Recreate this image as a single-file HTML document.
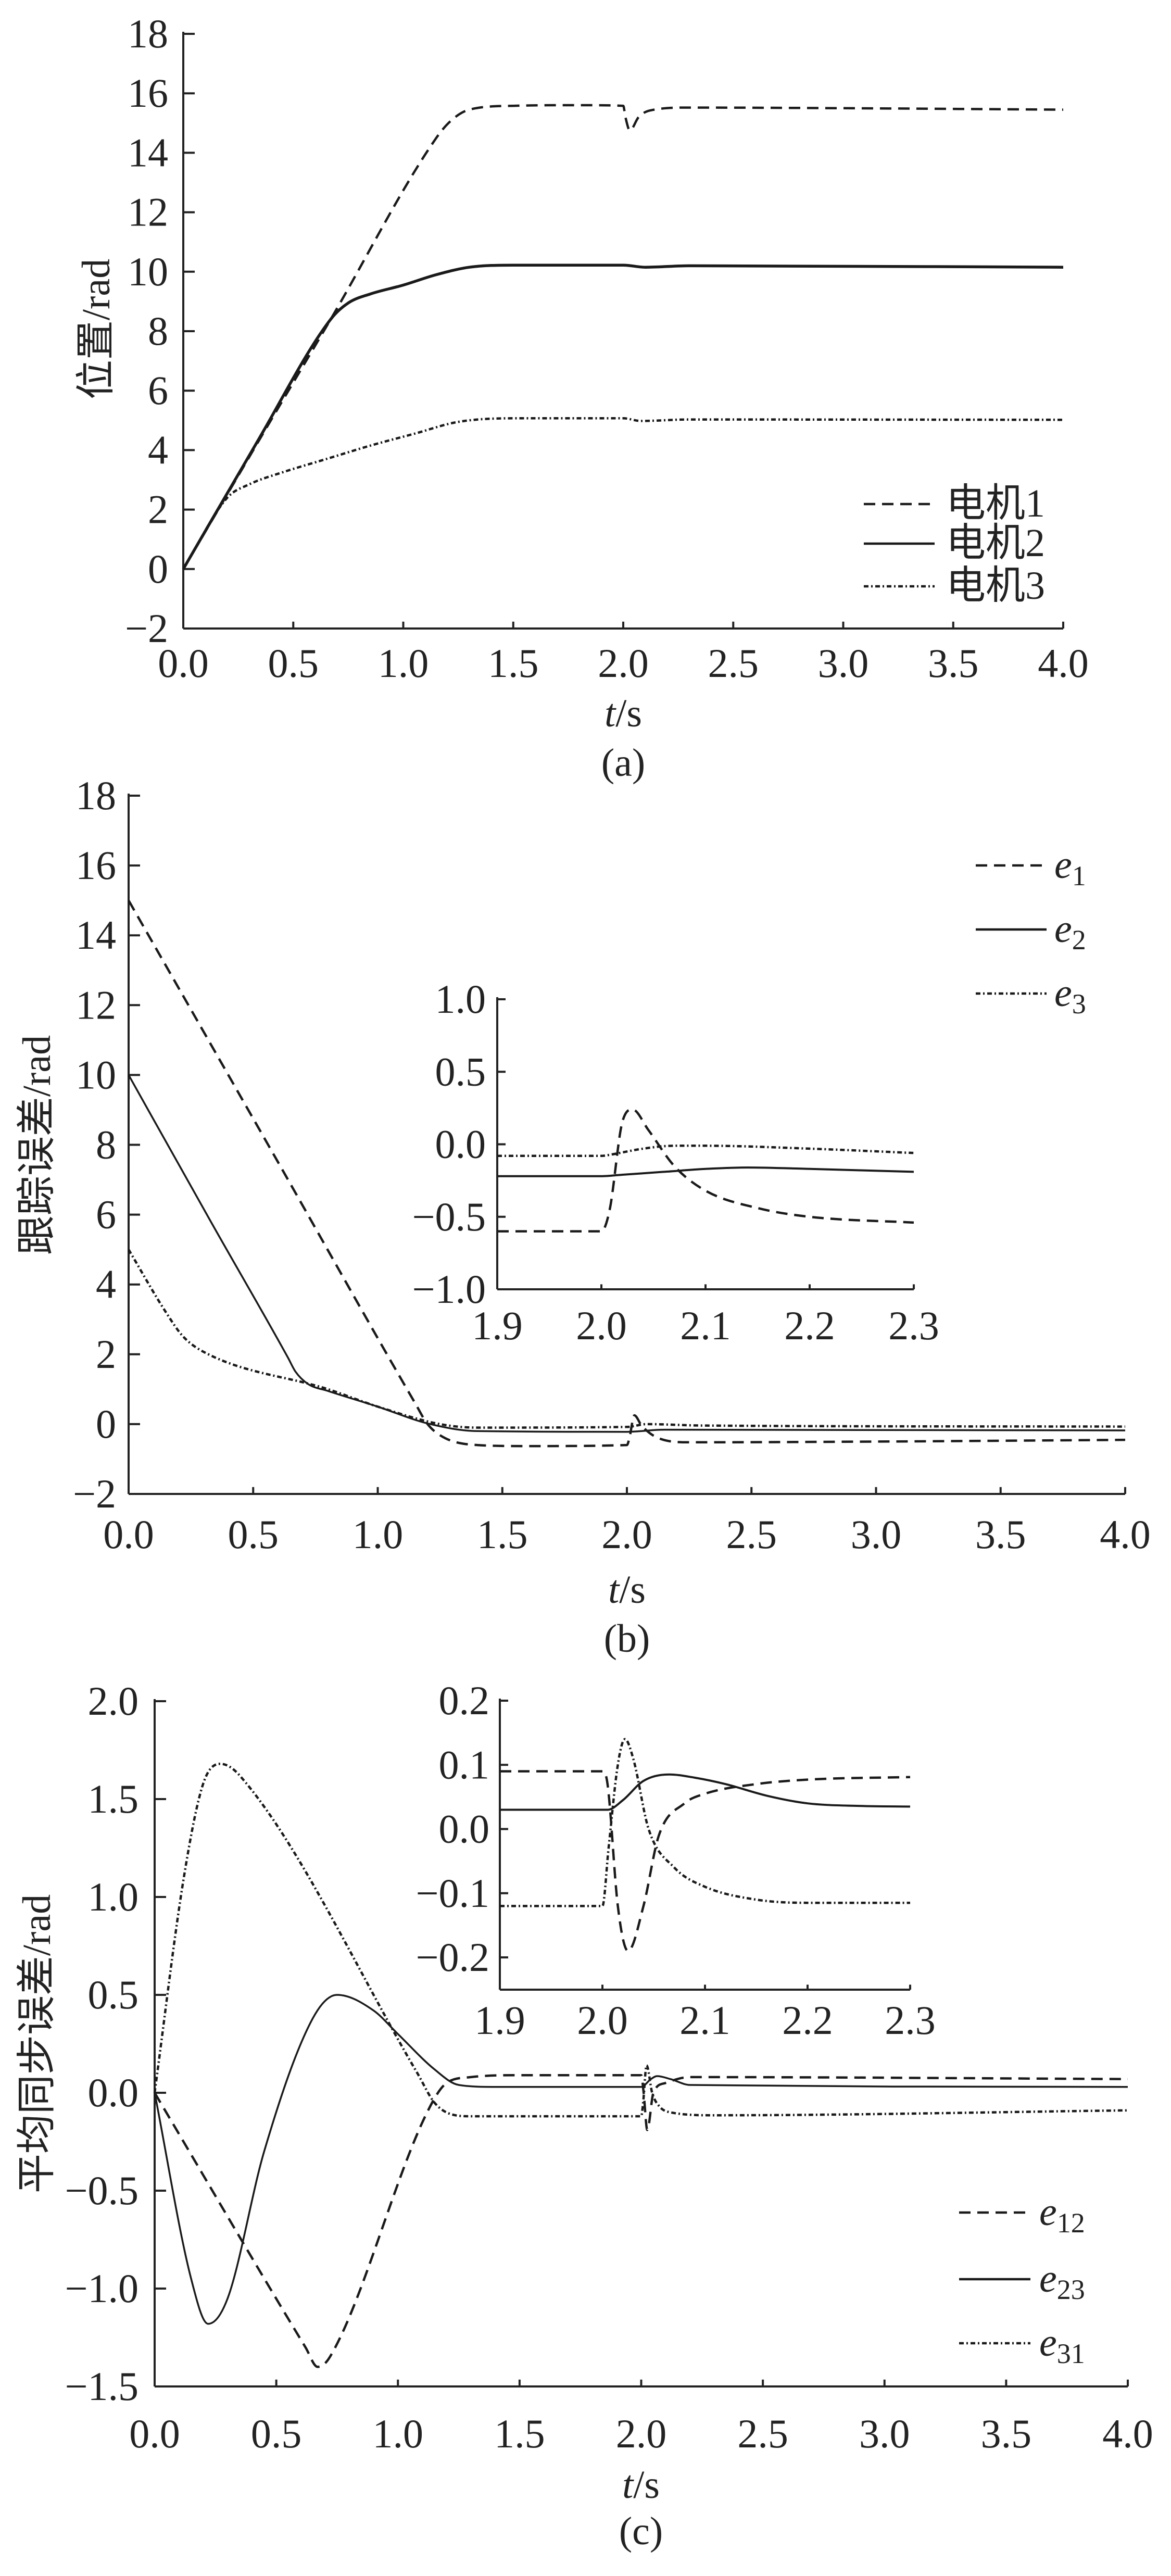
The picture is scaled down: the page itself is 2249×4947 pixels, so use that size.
<!DOCTYPE html>
<html><head><meta charset="utf-8">
<style>
html,body{margin:0;padding:0;background:#fff;}
svg{display:block;}
text{font-family:"Liberation Serif","Noto Serif CJK SC",serif;fill:#222;}
.cjk{font-family:"Liberation Serif","Noto Sans CJK SC",sans-serif;}
</style></head>
<body>
<svg id="fig" width="2249" height="4947" viewBox="0 0 2249 4947" xmlns="http://www.w3.org/2000/svg"></svg>
<script>
// ---- Panel (a) data ----
const aM1t=[0,0.35,0.67,1.15,1.22,1.3,1.5,1.8,2.0,2.01,2.03,2.07,2.12,2.3,3.0,4.0];
const aM1v=[0,4.4,8.4,14.5,15.1,15.45,15.58,15.6,15.58,15.2,14.75,15.2,15.42,15.52,15.5,15.45];
const aM2t=[0,0.33,0.67,0.75,0.85,1.0,1.15,1.3,1.5,2.0,2.1,2.3,4.0];
const aM2v=[0,4.2,8.4,8.95,9.25,9.55,9.9,10.15,10.22,10.22,10.15,10.2,10.15];
const aM3t=[0,0.2,0.3,0.45,0.65,0.85,1.05,1.25,1.5,2.0,2.08,2.3,4.0];
const aM3v=[0,2.4,2.85,3.25,3.7,4.15,4.55,4.95,5.07,5.07,4.98,5.03,5.02];
// ---- Panel (b) data ----
const bE1t=[0,0.6,1.15,1.2,1.27,1.4,1.6,2.0,2.01,2.03,2.06,2.12,2.25,3.0,4.0];
const bE1v=[15,7.5,0.6,0,-0.4,-0.6,-0.63,-0.6,-0.4,0.25,-0.05,-0.38,-0.52,-0.5,-0.45];
const bE2t=[0,0.33,0.64,0.67,0.72,0.8,1.0,1.2,1.4,2.0,2.15,4.0];
const bE2v=[10,5.8,1.9,1.5,1.15,0.95,0.5,0.02,-0.2,-0.22,-0.16,-0.18];
const bE3t=[0,0.15,0.22,0.32,0.8,1.0,1.25,1.4,2.0,2.08,2.3,4.0];
const bE3v=[5,3.2,2.5,2.0,1.0,0.5,0.0,-0.1,-0.08,0.0,-0.04,-0.07];
const bI1t=[1.9,2.0,2.008,2.02,2.03,2.045,2.07,2.1,2.15,2.2,2.3];
const bI1v=[-0.6,-0.6,-0.45,0.15,0.24,0.1,-0.15,-0.32,-0.44,-0.5,-0.54];
const bI2t=[1.9,2.0,2.02,2.06,2.1,2.14,2.2,2.3];
const bI2v=[-0.22,-0.22,-0.21,-0.19,-0.17,-0.16,-0.17,-0.19];
const bI3t=[1.9,2.0,2.01,2.04,2.07,2.1,2.2,2.3];
const bI3v=[-0.08,-0.08,-0.07,-0.03,-0.01,-0.01,-0.03,-0.06];
// ---- Panel (c) data ----
const cE12t=[0,0.62,0.67,0.72,1.12,1.2,1.3,1.5,2.0,2.01,2.025,2.05,2.1,2.2,4.0];
const cE12v=[0,-1.3,-1.4,-1.35,-0.1,0.05,0.08,0.09,0.09,0.0,-0.19,0.0,0.05,0.08,0.07];
const cE23t=[0,0.15,0.22,0.3,0.45,0.65,0.75,0.9,1.0,1.15,1.25,1.4,2.0,2.04,2.065,2.12,2.2,4.0];
const cE23v=[0,-0.95,-1.18,-1.05,-0.3,0.38,0.5,0.42,0.3,0.12,0.04,0.03,0.03,0.07,0.085,0.07,0.04,0.03];
const cE31t=[0,0.12,0.2,0.27,0.35,1.08,1.15,1.22,1.3,2.0,2.008,2.022,2.045,2.075,2.12,2.3,4.0];
const cE31v=[0,1.1,1.58,1.68,1.62,0.1,-0.05,-0.11,-0.12,-0.12,-0.05,0.14,0.0,-0.07,-0.1,-0.115,-0.09];
const cI12t=[1.9,2.0,2.005,2.015,2.025,2.04,2.055,2.08,2.1,2.15,2.2,2.3];
const cI12v=[0.09,0.09,0.07,-0.12,-0.19,-0.12,-0.01,0.04,0.055,0.07,0.077,0.081];
const cI23t=[1.9,2.005,2.02,2.04,2.065,2.09,2.12,2.16,2.2,2.25,2.3];
const cI23v=[0.03,0.03,0.045,0.075,0.085,0.08,0.07,0.052,0.04,0.036,0.035];
const cI31t=[1.9,2.0,2.006,2.015,2.022,2.03,2.045,2.07,2.1,2.15,2.2,2.3];
const cI31v=[-0.12,-0.12,-0.03,0.1,0.14,0.11,0.0,-0.06,-0.09,-0.11,-0.115,-0.115];

const yTicksA=[-2,0,2,4,6,8,10,12,14,16,18];
const xTicks=[0,0.5,1,1.5,2,2.5,3,3.5,4];
const yTicksC=[-1.5,-1,-0.5,0,0.5,1,1.5,2];
const insXTicks=[1.9,2.0,2.1,2.2,2.3];
const insBY=[-1,-0.5,0,0.5,1];
const insCY=[-0.2,-0.1,0,0.1,0.2];

const NS='http://www.w3.org/2000/svg';
const svg=document.getElementById('fig');
function mk(tag,attrs,parent){const e=document.createElementNS(NS,tag);for(const k in attrs)e.setAttribute(k,attrs[k]);(parent||svg).appendChild(e);return e;}
function lin(d0,d1,r0,r1){return v=>r0+(v-d0)/(d1-d0)*(r1-r0);}
function fmt(v,dec){let s=v.toFixed(dec);if(v<0)s='\u2212'+s.slice(1);return s;}
const DASH={dash:'22 13',solid:'none',dashdot:'9 5 3 5'};
function series(g,ts,vs,X,Y,style,w){
  const xs=ts.map(X),ys=vs.map(Y),n=xs.length;
  const d=[],m=new Array(n);
  for(let i=0;i<n-1;i++)d.push((ys[i+1]-ys[i])/(xs[i+1]-xs[i]));
  m[0]=d[0];m[n-1]=d[n-2];
  for(let i=1;i<n-1;i++){m[i]=(d[i-1]*d[i]<=0)?0:(d[i-1]+d[i])/2;}
  for(let i=0;i<n-1;i++){
    if(d[i]===0){m[i]=0;m[i+1]=0;continue;}
    const a=m[i]/d[i],b=m[i+1]/d[i],s=a*a+b*b;
    if(s>9){const t=3/Math.sqrt(s);m[i]=t*a*d[i];m[i+1]=t*b*d[i];}
  }
  let p='M'+xs[0].toFixed(1)+','+ys[0].toFixed(1);
  for(let i=0;i<n-1;i++){
    const h=(xs[i+1]-xs[i])/3;
    p+=' C'+(xs[i]+h).toFixed(1)+','+(ys[i]+m[i]*h).toFixed(1)+' '+(xs[i+1]-h).toFixed(1)+','+(ys[i+1]-m[i+1]*h).toFixed(1)+' '+xs[i+1].toFixed(1)+','+ys[i+1].toFixed(1);
  }
  return mk('path',{d:p,fill:'none',stroke:'#1a1a1a','stroke-width':w||4.5,'stroke-dasharray':DASH[style],'stroke-linejoin':'round'},g);
}
function axes(g,c){
  mk('line',{x1:c.x0,y1:c.yTop-4,x2:c.x0,y2:c.y0,stroke:'#222','stroke-width':4},g);
  mk('line',{x1:c.x0,y1:c.y0,x2:c.x1,y2:c.y0,stroke:'#222','stroke-width':4},g);
  c.yt.forEach(v=>{const y=c.Y(v);
    mk('line',{x1:c.x0,y1:y,x2:c.x0+c.tl,y2:y,stroke:'#222','stroke-width':4},g);
    const t=mk('text',{x:c.lx,y:y+26,'text-anchor':'end','font-size':c.fs},g);t.textContent=fmt(v,c.ydec);
  });
  c.xt.forEach(v=>{const x=c.X(v);
    mk('line',{x1:x,y1:c.y0,x2:x,y2:c.y0-c.tl*0.6,stroke:'#222','stroke-width':4},g);
    const t=mk('text',{x:x,y:c.xly,'text-anchor':'middle','font-size':c.fs},g);t.textContent=fmt(v,1);
  });
}
function legend(g,items,lx0,lx1,tx,rows,sub){
  items.forEach((it,i)=>{
    mk('line',{x1:lx0,y1:rows[i],x2:lx1,y2:rows[i],stroke:'#1a1a1a','stroke-width':4.5,'stroke-dasharray':DASH[it.s]},g);
    const t=mk('text',{x:tx,y:rows[i]+24,'font-size':76,class:sub?'':'cjk'},g);
    if(sub){
      const a=mk('tspan',{'font-style':'italic'},t);a.textContent='e';
      const b=mk('tspan',{'font-size':54,dy:14},t);b.textContent=it.n;
    } else t.textContent=it.n;
  });
}
function xtitle(g,x,y){
  const t=mk('text',{x:x,y:y,'text-anchor':'middle','font-size':76},g);
  const a=mk('tspan',{'font-style':'italic'},t);a.textContent='t';
  const b=mk('tspan',{},t);b.textContent='/s';
}
function ytitle(g,x,y,txt){
  const t=mk('text',{x:x,y:y,'text-anchor':'middle','font-size':76,class:'cjk',transform:'rotate(-90 '+x+' '+y+')'},g);t.textContent=txt;
}
function cap(g,x,y,txt){const t=mk('text',{x:x,y:y,'text-anchor':'middle','font-size':76},g);t.textContent=txt;}

// ===== Panel a =====
{
const g=mk('g',{});


const X=lin(0,4,352,2042),Y=lin(-2,18,1207,65);
axes(g,{x0:352,x1:2042,y0:1207,yTop:65,X:X,Y:Y,yt:yTicksA,xt:xTicks,tl:22,lx:323,xly:1300,fs:78,ydec:0});
const s1=series(g,aM1t,aM1v,X,Y,'dash');


const s2=series(g,aM2t,aM2v,X,Y,'solid',5.5);


const s3=series(g,aM3t,aM3v,X,Y,'dashdot');


const lg=mk('g',{},g);


legend(lg,[{n:'电机1',s:'dash'},{n:'电机2',s:'solid'},{n:'电机3',s:'dashdot'}],1659,1795,1817,[968,1044,1126],false);
xtitle(g,1197,1395);
ytitle(g,210,632,'位置/rad');
cap(g,1197,1490,'(a)');
}
// ===== Panel b =====
{
const g=mk('g',{});


const X=lin(0,4,247,2161),Y=lin(-2,18,2869,1528);
axes(g,{x0:247,x1:2161,y0:2869,yTop:1528,X:X,Y:Y,yt:yTicksA,xt:xTicks,tl:22,lx:223,xly:2973,fs:78,ydec:0});
const s1=series(g,bE1t,bE1v,X,Y,'dash');


const s2=series(g,bE2t,bE2v,X,Y,'solid',3.5);


const s3=series(g,bE3t,bE3v,X,Y,'dashdot');


const lg=mk('g',{},g);


legend(lg,[{n:'1',s:'dash'},{n:'2',s:'solid'},{n:'3',s:'dashdot'}],1874,2010,2025,[1662,1785,1908],true);
const ig=mk('g',{},g);


const IX=lin(1.9,2.3,955,1755),IY=lin(-1,1,2476,1919);
axes(ig,{x0:955,x1:1755,y0:2476,yTop:1919,X:IX,Y:IY,yt:insBY,xt:insXTicks,tl:16,lx:933,xly:2572,fs:78,ydec:1});
const i1=series(ig,bI1t,bI1v,IX,IY,'dash');


const i2=series(ig,bI2t,bI2v,IX,IY,'solid',4);


const i3=series(ig,bI3t,bI3v,IX,IY,'dashdot');


xtitle(g,1204,3078);
ytitle(g,96,2199,'跟踪误差/rad');
cap(g,1204,3172,'(b)');
}
// ===== Panel c =====
{
const g=mk('g',{});


const X=lin(0,4,297,2166),Y=lin(-1.5,2,4583,3267);
axes(g,{x0:297,x1:2166,y0:4583,yTop:3267,X:X,Y:Y,yt:yTicksC,xt:xTicks,tl:22,lx:266,xly:4700,fs:78,ydec:1});
const s1=series(g,cE12t,cE12v,X,Y,'dash');


const s2=series(g,cE23t,cE23v,X,Y,'solid',3.5);


const s3=series(g,cE31t,cE31v,X,Y,'dashdot');


const lg=mk('g',{},g);


legend(lg,[{n:'12',s:'dash'},{n:'23',s:'solid'},{n:'31',s:'dashdot'}],1842,1979,1996,[4249,4377,4500],true);
const ig=mk('g',{},g);


const IX=lin(1.9,2.3,960,1748),IY=lin(-0.2,0.2,3759,3266);
axes(ig,{x0:960,x1:1748,y0:3821,yTop:3266,X:IX,Y:IY,yt:insCY,xt:insXTicks,tl:16,lx:940,xly:3906,fs:78,ydec:1});
const i1=series(ig,cI12t,cI12v,IX,IY,'dash');


const i2=series(ig,cI23t,cI23v,IX,IY,'solid',4);


const i3=series(ig,cI31t,cI31v,IX,IY,'dashdot');


xtitle(g,1231,4797);
ytitle(g,96,3925,'平均同步误差/rad');
cap(g,1231,4886,'(c)');
}
</script>
</body></html>
